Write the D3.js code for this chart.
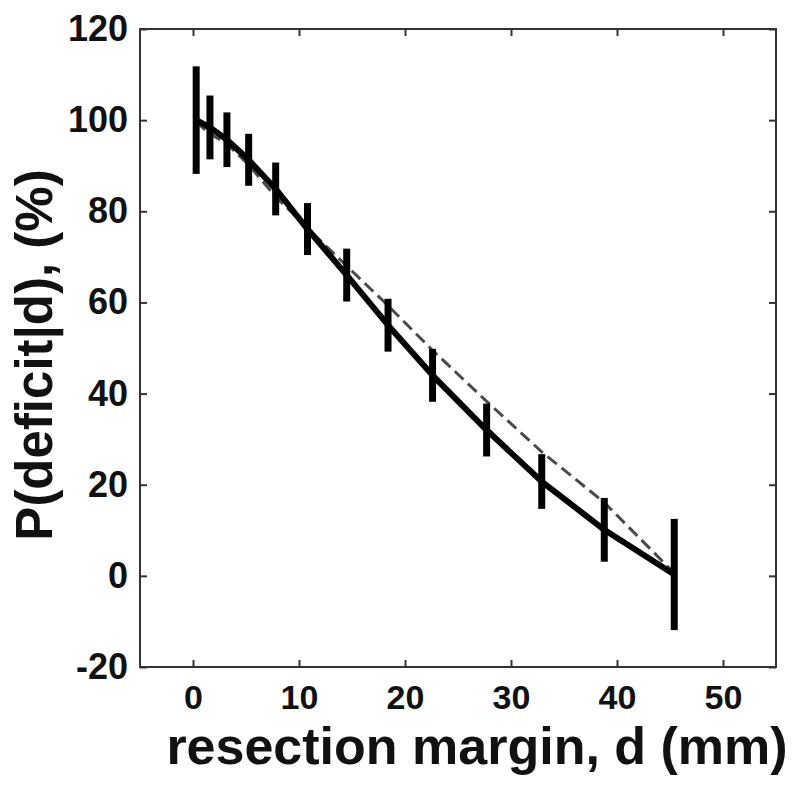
<!DOCTYPE html>
<html>
<head>
<meta charset="utf-8">
<script src="https://cdn.jsdelivr.net/npm/d3@7"></script>
<style>
  html, body { margin: 0; padding: 0; background: #fff; }
  svg { display: block; }
  text { font-family: Arial, "Liberation Sans", Helvetica, sans-serif; font-weight: bold; fill: #111; }
</style>
</head>
<body>
<div id="chart"></div>
<script>
// Data
const margins_mm = [0.3, 1.6, 3.2, 5.25, 7.8, 10.8, 14.5, 18.4, 22.6, 27.7, 32.9, 38.8, 45.4];
const meanDeficit = [100, 98.4, 95.7, 91.3, 84.9, 76.1, 66, 55, 44, 32, 20.7, 10.1, 0.3];
const errHalfWidth = [11.8, 7, 6, 5.7, 5.8, 5.7, 5.8, 5.8, 5.8, 5.8, 6, 7, 12.2];
const modelDeficit = [99.6, 97, 94.8, 90.2, 83.2, 76.3, 68, 59.3, 49.5, 38.3, 27.2, 16.1, 0.6];
const xTicks = [0, 10, 20, 30, 40, 50];
const yTicks = [-20, 0, 20, 40, 60, 80, 100, 120];
const xLabel = "resection margin, d (mm)";
const yLabel = "P(deficit|d), (%)";

const W = 800, H = 788;
const plot = { left: 140, top: 29, right: 776, bottom: 667 };

const svg = d3.select("#chart").append("svg").attr("width", W).attr("height", H);

const x = d3.scaleLinear().domain([-5, 55]).range([plot.left, plot.right]);
const y = d3.scaleLinear().domain([-20, 120]).range([plot.bottom, plot.top]);

const frameColor = "#333";

// Frame
svg.append("rect")
  .attr("x", plot.left).attr("y", plot.top)
  .attr("width", plot.right - plot.left).attr("height", plot.bottom - plot.top)
  .attr("fill", "none").attr("stroke", frameColor).attr("stroke-width", 2);

// Axes (ticks pointing inward)
const tickLen = 7;
const fmt = d => String(d);
const gx = svg.append("g").attr("transform", `translate(0,${plot.bottom})`)
  .call(d3.axisBottom(x).tickValues(xTicks).tickSizeInner(-tickLen).tickSizeOuter(0).tickPadding(18).tickFormat(fmt));
const gxTop = svg.append("g").attr("transform", `translate(0,${plot.top})`)
  .call(d3.axisTop(x).tickValues(xTicks).tickSizeInner(-tickLen).tickSizeOuter(0).tickFormat(""));
const gy = svg.append("g").attr("transform", `translate(${plot.left},0)`)
  .call(d3.axisLeft(y).tickValues(yTicks).tickSizeInner(-tickLen).tickSizeOuter(0).tickPadding(12).tickFormat(fmt));
const gyRight = svg.append("g").attr("transform", `translate(${plot.right},0)`)
  .call(d3.axisRight(y).tickValues(yTicks).tickSizeInner(-tickLen).tickSizeOuter(0).tickFormat(""));

[gx, gxTop, gy, gyRight].forEach(g => {
  g.select(".domain").remove();
  g.selectAll(".tick line").attr("stroke", frameColor).attr("stroke-width", 2);
});
gx.selectAll(".tick text").attr("font-size", 34).attr("fill", "#111")
  .attr("font-family", "Arial, 'Liberation Sans', sans-serif").attr("font-weight", "bold");
gy.selectAll(".tick text").attr("font-size", 36).attr("fill", "#111")
  .attr("font-family", "Arial, 'Liberation Sans', sans-serif").attr("font-weight", "bold");

// Model (dashed)
const pts = margins_mm.map((d, i) => ({ d, m: meanDeficit[i], e: errHalfWidth[i], model: modelDeficit[i] }));

svg.append("path")
  .datum(pts)
  .attr("fill", "none")
  .attr("stroke", "#4a4a4a")
  .attr("stroke-width", 3)
  .attr("stroke-dasharray", "12,6")
  .attr("d", d3.line().x(p => x(p.d)).y(p => y(p.model)));

// Mean line (solid)
svg.append("path")
  .datum(pts)
  .attr("fill", "none")
  .attr("stroke", "#000")
  .attr("stroke-width", 6)
  .attr("stroke-linejoin", "round")
  .attr("d", d3.line().x(p => x(p.d)).y(p => y(p.m)));

// Error bars
svg.append("g").selectAll("line").data(pts).join("line")
  .attr("x1", p => x(p.d)).attr("x2", p => x(p.d))
  .attr("y1", p => y(p.m + p.e)).attr("y2", p => y(p.m - p.e))
  .attr("stroke", "#000").attr("stroke-width", 7);

// Axis labels
svg.append("text")
  .attr("x", 477).attr("y", 764)
  .attr("text-anchor", "middle")
  .attr("font-size", 52)
  .text(xLabel);

svg.append("text")
  .attr("transform", `translate(52,355) rotate(-90)`)
  .attr("text-anchor", "middle")
  .attr("font-size", 51)
  .text(yLabel);
</script>
</body>
</html>
